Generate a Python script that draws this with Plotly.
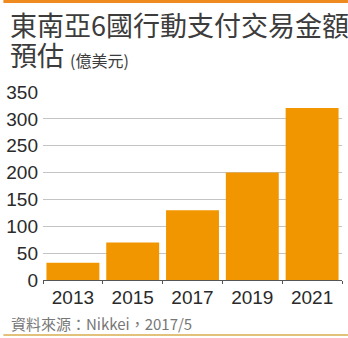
import plotly.graph_objects as go

years = ["2013", "2015", "2017", "2019", "2021"]
values = [32, 70, 130, 200, 320]
y_ticks = [0, 50, 100, 150, 200, 250, 300, 350]

W, H = 348, 338
L, R, T, B = 40, 6, 92, 58
PW, PH = W - L - R, H - T - B

def px_x(px):
    return (px - L) / PW

def px_y(py):
    return (H - B - py) / PH

bar_color = "#F29600"
cjk = "Noto Sans CJK TC, Noto Sans CJK SC, sans-serif"
num_font = "Liberation Sans, Arial, sans-serif"

fig = go.Figure(go.Bar(
    x=years, y=values, marker=dict(color=bar_color, line=dict(width=0)),
    hoverinfo="skip",
))

fig.update_layout(
    width=W, height=H,
    margin=dict(l=L, r=R, t=T, b=B),
    paper_bgcolor="white", plot_bgcolor="white",
    bargap=0.115,
    showlegend=False,
    xaxis=dict(
        type="category", tickson="boundaries", ticks="outside", ticklen=3,
        tickcolor="#555", showline=True, linecolor="#555", linewidth=1,
        showgrid=False, tickfont=dict(family=num_font, size=19, color="#2a2a2a"),
        range=[-0.5, 4.5], fixedrange=True,
    ),
    yaxis=dict(
        range=[0, 350], tickvals=y_ticks, ticks="", showline=False,
        showgrid=True, gridcolor="#c4c4c4", gridwidth=1, zeroline=False,
        tickfont=dict(family=num_font, size=19, color="#2a2a2a"),
        ticklabelstandoff=4, fixedrange=True,
    ),
    font=dict(family=num_font),
)

annotations = [
    dict(text="東南亞6國行動支付交易金額", x=px_x(5), y=px_y(24),
         font=dict(family=cjk, size=27, color="#3c3c3c")),
    dict(text="預估", x=px_x(5), y=px_y(55),
         font=dict(family=cjk, size=27, color="#3c3c3c")),
    dict(text="(億美元)", x=px_x(65), y=px_y(59.5),
         font=dict(family=cjk, size=16, color="#3c3c3c")),
    dict(text="資料來源：Nikkei，2017/5", x=px_x(6), y=px_y(323),
         font=dict(family=cjk, size=15, color="#777")),
]
for a in annotations:
    a.update(xref="paper", yref="paper", xanchor="left", yanchor="middle",
             showarrow=False)
fig.update_layout(annotations=annotations)

fig.update_layout(shapes=[
    dict(type="rect", xref="paper", yref="paper",
         x0=px_x(0), x1=px_x(W), y0=px_y(3), y1=px_y(0),
         fillcolor="#EE8A1E", line=dict(width=0)),
    dict(type="rect", xref="paper", yref="paper",
         x0=px_x(0), x1=px_x(W), y0=px_y(336), y1=px_y(334),
         fillcolor="#E2C27A", line=dict(width=0)),
])

fig.write_html("out.html")
